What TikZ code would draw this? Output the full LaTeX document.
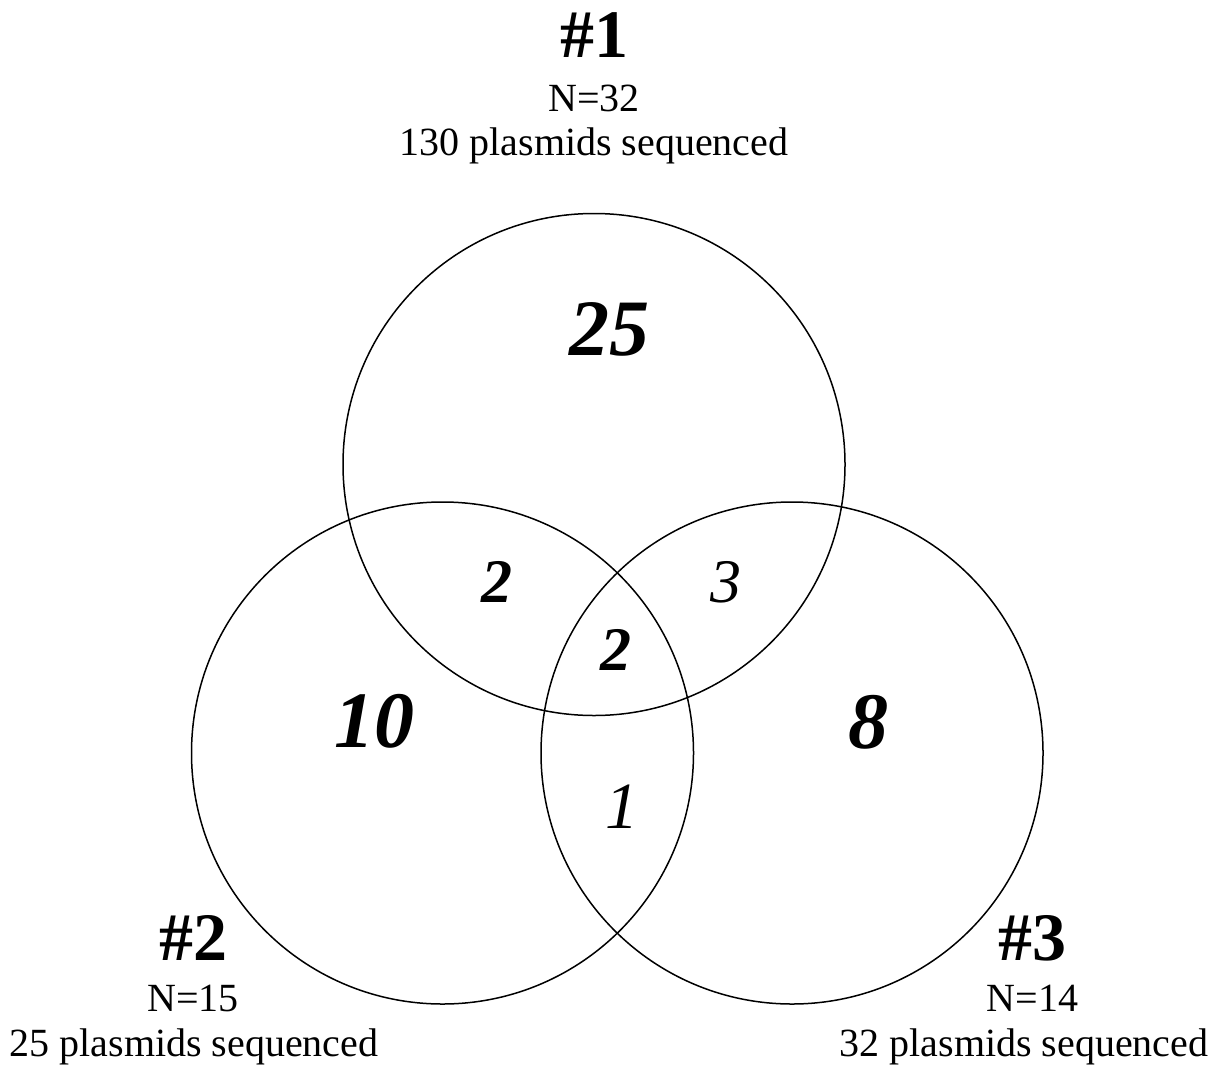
\documentclass[tikz,border=0pt]{standalone}
\usepackage{fontspec}
\setmainfont{Liberation Serif}

\begin{document}
\begin{tikzpicture}
  [x=1pt, y=-1pt,
   set/.style={circle, draw, line width=1.5pt, minimum size=502pt, inner sep=0pt},
   title/.style={anchor=base, inner sep=0pt, font=\fontsize{68}{68}\selectfont\bfseries},
   info/.style={anchor=base, inner sep=0pt, font=\fontsize{40}{40}\selectfont},
   big/.style={anchor=base, inner sep=0pt, font=\fontsize{80}{80}\selectfont\bfseries\itshape},
   small/.style={anchor=base, inner sep=0pt, font=\fontsize{62}{62}\selectfont\bfseries\itshape},
   plain/.style={anchor=base, inner sep=0pt, font=\fontsize{62}{62}\selectfont\itshape},
  ]
  \useasboundingbox (0,0) rectangle (1230,1070);

  % the three sets
  \node[set] (s1) at (594,464.5) {};
  \node[set] (s2) at (442.5,753) {};
  \node[set] (s3) at (792,753) {};

  % set labels
  \node[title] (t1) at (594,57.5) {\#1};
  \node[info]  (n1) at (594,111.5) {N=32};
  \node[info]  (p1) at (594,155) {130 plasmids sequenced};

  \node[title] (t2) at (193.5,960) {\#2};
  \node[info]  (n2) at (193,1011) {N=15};
  \node[info]  (p2) at (194,1056) {25 plasmids sequenced};

  \node[title] (t3) at (1032.5,960) {\#3};
  \node[info]  (n3) at (1032.5,1011) {N=14};
  \node[info]  (p3) at (1024,1056) {32 plasmids sequenced};

  % region counts
  \node[big]   (only1) at (609,355) {25};
  \node[big]   (only2) at (374.5,747) {10};
  \node[big]   (only3) at (868,748) {8};
  \node[small] (both12) at (497,602) {2};
  \node[plain] (both13) at (725.5,602) {3};
  \node[small] (all)    at (615.5,670) {2};
  \node[plain, font=\fontsize{66}{66}\selectfont\itshape] (both23) at (622,828) {1};

\end{tikzpicture}
\end{document}
